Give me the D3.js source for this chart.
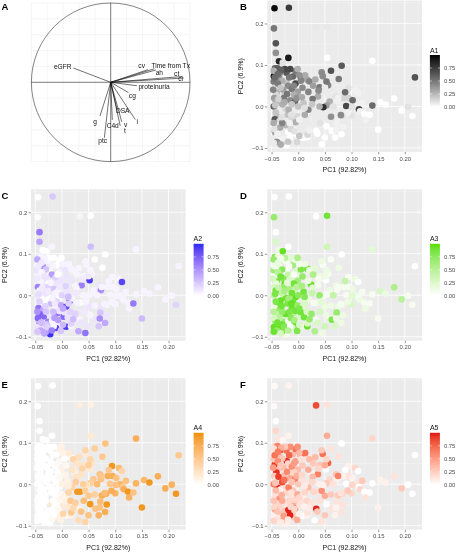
<!DOCTYPE html>
<html><head><meta charset="utf-8">
<script src="https://cdn.jsdelivr.net/npm/d3@7"></script>
<style>
body{margin:0;background:#fff}
svg{display:block;font-family:"Liberation Sans",Arial,Helvetica,sans-serif;will-change:transform}
</style>
</head><body>
<svg id="c" width="458" height="552"></svg>
<script>
// ---------- Panel A: variable loadings ----------
const varNames = ["eGFR","cv","Time from Tx","ah","ct","ci","proteinuria","cg","DSA","i","v","t","C4d","g","ptc"];
const varPC1 = [-0.47, 0.47, 0.55, 0.57, 0.90, 0.92, 0.33, 0.225, 0.08, 0.31, 0.14, 0.12, 0.02, -0.135, -0.08];
const varPC2 = [0.18, 0.16, 0.17, 0.155, 0.073, 0.054, -0.043, -0.13, -0.35, -0.47, -0.50, -0.55, -0.475, -0.425, -0.70];
// label nudges in pixels (style, not data)
const labelNudgeX = [-10.7, -6.3, 16.4, 3.4, -5.4, -3, 17.1, 3.8, 5.7, 2, 3.9, 4.8, 0.4, -5, -1.7];
const labelNudgeY = [-2, -4.6, -3.8, 2.3, -3.2, 0.3, 1, 3.1, 0.2, 1.7, 2.3, 4.8, 5.3, 5, 2.9];

// ---------- Scatter data (individuals) ----------
const pc1 = [
-0.0445,-0.0175,-0.0455,-0.042,0.0335,0.054,-0.036,-0.0185,-0.029,0.054,
0.139,0.219,0.0815,0.0615,0.076,0.046,-0.042,-0.0456,-0.0437,-0.039,
-0.034,-0.036,-0.022,-0.0217,-0.044,-0.019,-0.01,-0.005,-0.03,-0.046,
-0.028,-0.005,-0.012,-0.04,-0.001,0.005,-0.015,-0.046,-0.025,-0.001,
-0.041,-0.045,-0.042,-0.0387,-0.034,-0.033,-0.0235,-0.0047,-0.039,-0.044,
-0.046,-0.03,-0.015,-0.02,-0.01,-0.006,-0.027,-0.012,-0.035,-0.0015,
-0.041,-0.034,-0.042,-0.026,-0.0456,-0.036,-0.0235,-0.017,-0.008,-0.022,
-0.011,-0.009,-0.0185,-0.0059,-0.0153,-0.044,-0.03,-0.04,-0.03,-0.002,
0.008,0.0144,0.008,0.052,0.003,0.017,0.011,0.005,0.024,0.017,
0.005,0.013,0.056,0.037,0.0338,0.044,0.031,0.034,0.029,0.019,
0.0125,0.016,0.0175,0.002,0.036,0.05,0.053,0.05,0.044,0.019,
0.027,0.021,0.04,0.05,0.038,0.053,0.044,0.059,0.053,0.047,
0.071,0.073,0.086,0.0747,0.094,0.088,0.107,0.1125,0.095,0.102,
0.09,0.109,0.101,0.114,0.116,0.124,0.126,0.134,0.139,0.154,
0.164,0.18,0.194,0.206,0.214,0.15,0.1,0.093,0.084,0.083,
0.075,0.081,0.069,0.072,0.063,0.0615,0.08,0.071,0.066,0.12,
-0.038,-0.025,-0.008,-0.042,-0.018,-0.03,-0.005,-0.046,-0.014,0.0,
0.01,0.008,0.025,0.028,0.04,-0.033,-0.047,-0.043,-0.037,-0.031,
-0.026,-0.021,-0.016,-0.012,-0.007,-0.003,-0.045,-0.039,-0.033,-0.027,
-0.019,-0.013,-0.044,-0.032,-0.017,-0.008,0.002,0.007,0.012,0.002,
0.021,0.026,0.032,0.041,-0.046,-0.038];
const pc2 = [
0.2365,0.238,0.188,0.152,0.19,0.1915,0.109,0.117,0.106,0.117,
0.11,0.07,0.098,0.086,0.066,0.073,0.129,0.073,0.092,0.092,
0.081,0.07,0.081,0.056,0.048,0.05,0.072,0.085,0.062,0.06,
0.04,0.055,0.042,0.033,0.09,0.069,0.09,0.086,0.028,0.035,
0.028,0.02,0.011,-0.008,-0.0185,-0.013,-0.006,-0.005,-0.025,-0.031,
0.0,0.005,0.015,-0.02,-0.015,0.012,0.02,-0.03,-0.035,-0.024,
-0.046,-0.051,-0.07,-0.064,-0.077,-0.081,-0.045,-0.065,-0.073,-0.094,
-0.079,-0.044,-0.062,-0.059,-0.075,-0.06,-0.088,-0.085,-0.04,-0.086,
-0.076,-0.014,-0.028,0.036,-0.052,-0.075,-0.053,-0.041,0.026,0.064,
0.062,0.075,0.051,0.024,-0.059,-0.091,-0.087,-0.018,-0.018,-0.008,
-0.02,-0.04,-0.068,-0.071,-0.066,-0.075,-0.048,-0.028,-0.016,0.035,
0.018,0.06,0.046,0.046,0.038,0.06,0.082,0.012,0.002,-0.002,
0.024,0.012,0.02,0.02,0.044,0.034,0.039,0.032,0.02,0.015,
0.001,0.0,-0.002,-0.007,-0.012,-0.018,-0.032,-0.02,0.002,0.01,
0.004,0.019,-0.01,-0.001,-0.023,-0.056,-0.022,-0.016,-0.049,-0.023,
-0.027,-0.067,-0.075,-0.042,-0.059,-0.025,-0.021,-0.056,0.0,0.008,
0.055,0.09,0.028,-0.015,-0.008,-0.07,-0.038,-0.088,-0.055,0.0,
0.008,0.045,-0.045,0.05,0.0,0.045,0.04,0.003,0.018,-0.026,
0.01,0.03,-0.04,0.005,-0.06,0.02,-0.055,-0.066,-0.092,-0.077,
-0.085,-0.02,0.07,0.088,0.07,0.05,0.075,0.022,-0.004,-0.032,
-0.058,0.005,0.065,-0.04,-0.04,0.078];
const a1 = [
0.97,0.75,0.5,0.65,0.08,0.08,0.85,0.92,0.1,0.0,
0.0,0.65,0.62,0.65,0.5,0.42,0.4,0.95,0.55,0.6,
0.42,0.42,0.63,0.21,0.14,0.42,0.56,0.49,0.28,0.49,
0.35,0.7,0.49,0.28,0.28,0.49,0.7,0.28,0.21,0.35,
0.14,0.35,0.28,0.07,0.07,0.07,0.14,0.07,0.28,0.63,
0.56,0.28,0.42,0.21,0.07,0.56,0.49,0.14,0.14,0.14,
0.07,0.3,0.35,0.07,0.07,0.0,0.25,0.07,0.0,0.0,
0.07,0.07,0.0,0.0,0.0,0.35,0.14,0.4,0.45,0.14,
0.0,0.0,0.07,0.07,0.07,0.0,0.07,0.07,0.07,0.35,
0.45,0.3,0.45,0.3,0.0,0.0,0.07,0.07,0.07,0.45,
0.3,0.07,0.14,0.21,0.0,0.0,0.0,0.07,0.07,0.45,
0.5,0.45,0.5,0.07,0.42,0.5,0.42,0.28,0.35,0.8,
0.1,0.05,0.15,0.05,0.1,0.55,0.05,0.05,0.15,0.55,
0.7,0.05,0.1,0.72,0.05,0.0,0.05,0.0,0.55,0.0,
0.0,0.0,0.0,0.1,0.0,0.0,0.1,0.05,0.05,0.1,
0.05,0.0,0.0,0.05,0.0,0.4,0.42,0.05,0.1,0.05,
0.49,0.7,0.28,0.21,0.28,0.07,0.28,0.07,0.14,0.21,
0.21,0.42,0.07,0.35,0.28,0.21,0.45,0.2,0.15,0.1,
0.3,0.5,0.05,0.2,0.1,0.4,0.1,0.05,0.3,0.05,
0.2,0.1,0.55,0.6,0.5,0.45,0.4,0.3,0.1,0.05,
0.05,0.2,0.3,0.1,0.3,0.55];
const a2 = [
0.0,0.25,0.02,0.62,0.05,0.0,0.0,0.05,0.0,0.3,
0.05,0.05,0.0,0.0,0.0,0.05,0.42,0.0,0.12,0.05,
0.05,0.52,0.05,0.0,0.05,0.45,0.0,0.0,0.26,0.12,
0.12,0.05,0.2,0.05,0.0,0.0,0.0,0.4,0.0,0.12,
0.05,0.58,0.05,0.0,0.05,0.0,0.0,0.0,0.05,0.65,
0.12,0.12,0.26,0.32,0.2,0.05,0.2,0.05,0.4,0.4,
0.75,0.7,0.65,0.58,0.12,0.12,0.12,0.05,0.05,0.97,
0.88,0.65,0.05,0.05,0.05,0.32,0.45,0.4,0.26,0.26,
0.92,0.88,0.85,0.92,0.7,0.05,0.12,0.12,0.05,0.05,
0.12,0.05,0.05,0.58,0.05,0.65,0.4,0.0,0.05,0.05,
0.2,0.2,0.2,0.32,0.12,0.12,0.05,0.12,0.05,0.12,
0.05,0.05,0.05,0.1,0.1,0.05,0.05,0.05,0.05,0.05,
0.12,0.52,0.05,0.05,0.05,0.05,0.05,0.88,0.05,0.05,
0.05,0.05,0.05,0.05,0.05,0.05,0.05,0.62,0.05,0.05,
0.05,0.05,0.05,0.05,0.2,0.32,0.05,0.05,0.12,0.05,
0.12,0.4,0.26,0.26,0.12,0.05,0.05,0.52,0.05,0.05,
0.05,0.0,0.12,0.2,0.05,0.26,0.12,0.26,0.45,0.2,
0.12,0.12,0.2,0.05,0.05,0.12,0.1,0.15,0.1,0.2,
0.1,0.05,0.3,0.05,0.45,0.1,0.7,0.3,0.4,0.2,
0.6,0.1,0.1,0.05,0.05,0.0,0.05,0.2,0.3,0.4,
0.3,0.1,0.05,0.1,0.5,0.1];
const a3 = [
0.0,0.0,0.7,0.0,0.0,0.9,0.14,0.0,0.95,0.35,
0.21,0.0,0.0,0.05,0.14,0.05,0.28,0.05,0.84,0.14,
0.28,0.14,0.05,0.0,0.0,0.42,0.63,0.14,0.77,0.63,
0.77,0.28,0.28,0.91,0.56,0.14,0.21,0.7,0.97,0.63,
0.14,0.28,0.9,0.07,0.14,0.95,0.92,0.97,0.9,0.14,
0.42,0.42,0.56,0.85,0.9,0.35,0.7,0.92,0.7,0.7,
0.42,0.49,0.56,0.63,0.95,0.97,0.95,0.92,0.92,0.07,
0.28,0.49,0.07,0.07,0.0,0.63,0.77,0.7,0.7,0.84,
0.14,0.07,0.21,0.0,0.28,0.95,0.9,0.9,0.95,0.9,
0.84,0.14,0.07,0.07,0.07,0.14,0.56,0.14,0.07,0.14,
0.28,0.28,0.28,0.28,0.28,0.35,0.14,0.14,0.21,0.14,
0.21,0.14,0.14,0.14,0.07,0.14,0.14,0.14,0.07,0.07,
0.14,0.07,0.07,0.07,0.07,0.42,0.14,0.0,0.07,0.14,
0.07,0.14,0.21,0.07,0.14,0.07,0.14,0.07,0.07,0.28,
0.14,0.56,0.49,0.07,0.07,0.07,0.28,0.14,0.14,0.14,
0.14,0.14,0.28,0.7,0.84,0.14,0.07,0.14,0.42,0.07,
0.49,0.49,0.9,0.84,0.63,0.9,0.88,0.92,0.77,0.77,
0.9,0.7,0.7,0.56,0.7,0.9,0.3,0.85,0.4,0.9,
0.6,0.2,0.85,0.9,0.6,0.5,0.3,0.9,0.3,0.8,
0.5,0.95,0.1,0.1,0.05,0.05,0.1,0.6,0.8,0.85,
0.7,0.4,0.2,0.3,0.5,0.15];
const a4 = [
0,0,0,0,0.15,0.12,0,0,0,0.19,
0.75,0.5,0.56,0.44,0.5,0.19,0,0,0,0,
0,0,0,0,0,0,0,0.12,0,0,
0,0.06,0,0,0.12,0.12,0,0,0,0.12,
0,0,0,0,0,0,0,0,0,0,
0,0,0,0,0,0.05,0,0,0,0.05,
0,0,0,0,0,0,0.19,0,0.06,0,
0.12,0,0,0.06,0,0,0,0,0,0.12,
0.06,0.12,0.12,0.19,0.19,0.12,0.19,0.12,0.12,0.06,
0,0.19,0.25,0.25,0.12,0.38,0.31,0.95,0.95,0.38,
0.38,0.5,0.5,0.38,0.56,0.56,0.95,0.5,0.44,0.25,
0.25,0.38,0.25,0.44,0.38,0.38,0.38,0.5,0.44,0.25,
0.56,0.56,0.75,0.5,0.95,0.5,0.62,0.38,0.75,0.56,
0.5,0.69,0.56,0.5,0.75,0.95,0.7,0.56,0.69,0.65,
0.95,0.75,0.75,0.7,0.95,0.95,0.69,0.75,0.95,0.75,
0.75,0.75,0.69,0.62,0.56,0.44,0.62,0.56,0.62,0.56,
0,0,0,0,0,0,0.06,0,0,0.12,
0.12,0.06,0.44,0.25,0.44,0,0,0,0,0,
0,0,0,0,0.05,0.05,0,0,0,0,
0.05,0,0,0,0,0.05,0.1,0.1,0.15,0.1,
0.35,0.45,0.3,0.6,0,0];
const a5 = [
0.03,0.06,0.03,0.0,0.85,0.15,0.14,0.07,0.05,0.42,
0.21,0.0,0.0,0.14,0.14,0.7,0.21,0.14,0.21,0.63,
0.84,0.35,0.7,0.95,0.95,0.21,0.35,0.7,0.28,0.28,
0.35,0.49,0.56,0.35,0.56,0.84,0.56,0.14,0.14,0.35,
0.95,0.28,0.14,0.97,0.95,0.07,0.14,0.07,0.14,0.14,
0.63,0.84,0.42,0.21,0.28,0.63,0.35,0.14,0.56,0.42,
0.21,0.21,0.21,0.28,0.07,0.07,0.14,0.14,0.21,0.07,
0.28,0.42,0.97,0.95,0.98,0.49,0.28,0.14,0.42,0.42,
0,0.07,0.07,0,0.14,0.07,0.07,0.14,0.07,0.14,
0.14,0.7,0.77,0.63,0.97,0.14,0,0.14,0.21,0.35,
0.21,0.21,0.14,0.07,0.28,0.28,0,0.42,0.56,0.42,
0.35,0.35,0.28,0.42,0.21,0.21,0.28,0.21,0.28,0.07,
0.28,0.07,0.07,0.63,0.07,0,0.21,0,0.14,0.07,
0,0.14,0.21,0,0.21,0,0.14,0,0,0.07,
0.07,0.14,0.28,0,0,0.07,0.21,0.28,0.14,0.21,
0.28,0.14,0.07,0.14,0.14,0.28,0.14,0.07,0.14,0.28,
0.56,0.28,0.21,0.35,0.63,0.28,0.21,0.21,0.21,0.28,
0.14,0.28,0.14,0.28,0.07,0.28,0.5,0.3,0.9,0.4,
0.7,0.6,0.2,0.3,0.2,0.4,0.2,0.3,0.1,0.5,
0.1,0.15,0.7,0.4,0.75,0.5,0.35,0.2,0.1,0.2,
0.1,0.2,0.35,0.15,0.3,0.65];

const archetypeNames = ["A1","A2","A3","A4","A5"];
const archetypeValues = [a1, a2, a3, a4, a5];
const panelLetters = ["B","C","D","E","F"];
const highColors = ["#000000","#2b2bf2","#58e000","#ee9306","#e21414"];
const xTicks = [-0.05, 0, 0.05, 0.10, 0.15, 0.20];
const xMinor = [-0.025, 0.025, 0.075, 0.125, 0.175, 0.225];
const yTicks = [-0.1, 0, 0.1, 0.2];
const yMinor = [-0.05, 0.05, 0.15, 0.25];
const legendTicks = [0, 0.25, 0.5, 0.75];
const xTitle = "PC1 (92.82%)";
const yTitle = "PC2 (6.9%)";

// ---------- drawing ----------
const svg = d3.select("#c");

// Panel A
(function(){
  const cx = 110.7, cy = 82.3, r = 79.3;
  const sx = d3.scaleLinear().domain([-1,1]).range([cx-r, cx+r]);
  const sy = d3.scaleLinear().domain([-1,1]).range([cy+r, cy-r]);
  const g = svg.append("g");
  const gv = d3.range(-5,6).map(i=>i/5).filter(v=>v!==0);
  g.selectAll("line.gx").data(gv).join("line")
    .attr("x1",d=>sx(d)).attr("x2",d=>sx(d)).attr("y1",sy(1)).attr("y2",sy(-1))
    .attr("stroke","#ebebeb").attr("stroke-width",0.5);
  g.selectAll("line.gy").data(gv).join("line")
    .attr("y1",d=>sy(d)).attr("y2",d=>sy(d)).attr("x1",sx(-1)).attr("x2",sx(1))
    .attr("stroke","#ebebeb").attr("stroke-width",0.5);
  g.append("circle").attr("cx",sx(0)).attr("cy",sy(0)).attr("r",sx(1)-sx(0))
    .attr("fill","none").attr("stroke","#333").attr("stroke-width",0.6);
  g.append("line").attr("x1",sx(-1)).attr("x2",sx(1)).attr("y1",sy(0)).attr("y2",sy(0))
    .attr("stroke","#222").attr("stroke-width",0.6);
  g.append("line").attr("x1",sx(0)).attr("x2",sx(0)).attr("y1",sy(1)).attr("y2",sy(-1))
    .attr("stroke","#222").attr("stroke-width",0.6);
  const idx = d3.range(varNames.length);
  g.selectAll("line.ar").data(idx).join("line")
    .attr("x1",sx(0)).attr("y1",sy(0))
    .attr("x2",i=>sx(varPC1[i])).attr("y2",i=>sy(varPC2[i]))
    .attr("stroke","#111").attr("stroke-width",0.6);
  g.selectAll("text.lb").data(idx).join("text")
    .attr("x",i=>sx(varPC1[i])+labelNudgeX[i])
    .attr("y",i=>sy(varPC2[i])+labelNudgeY[i])
    .attr("text-anchor","middle").attr("dominant-baseline","central")
    .attr("font-size",6.6).attr("fill","#111").text(i=>varNames[i]);
  svg.append("text").attr("x",1.5).attr("y",9.5).attr("font-size",9.5)
    .attr("font-weight","bold").text("A");
})();

// Scatter panels
const PW = 154.6, PH = 151.4;
const panelLeft = [267.3, 31, 267.3, 31, 267.3];
const panelTop = [0.5, 189.3, 189.3, 378.3, 378.3];

archetypeValues.forEach((vals, k) => {
  const left = panelLeft[k], top = panelTop[k];
  const x = d3.scaleLinear().domain([-0.058, 0.232]).range([left, left+PW]);
  const y = d3.scaleLinear().domain([-0.1096, 0.2553]).range([top+PH, top]);
  const col = d3.scaleLinear().domain([0,1]).range(["#ffffff", highColors[k]])
    .interpolate(d3.interpolateLab).clamp(true);
  const g = svg.append("g");
  g.append("rect").attr("x",left).attr("y",top).attr("width",PW).attr("height",PH).attr("fill","#ebebeb");
  g.selectAll("line.mx").data(xMinor).join("line")
    .attr("x1",d=>x(d)).attr("x2",d=>x(d)).attr("y1",top).attr("y2",top+PH)
    .attr("stroke","#f7f7f7").attr("stroke-width",0.4);
  g.selectAll("line.my").data(yMinor).join("line")
    .attr("y1",d=>y(d)).attr("y2",d=>y(d)).attr("x1",left).attr("x2",left+PW)
    .attr("stroke","#f7f7f7").attr("stroke-width",0.4);
  g.selectAll("line.Mx").data(xTicks).join("line")
    .attr("x1",d=>x(d)).attr("x2",d=>x(d)).attr("y1",top).attr("y2",top+PH)
    .attr("stroke","#ffffff").attr("stroke-width",0.8);
  g.selectAll("line.My").data(yTicks).join("line")
    .attr("y1",d=>y(d)).attr("y2",d=>y(d)).attr("x1",left).attr("x2",left+PW)
    .attr("stroke","#ffffff").attr("stroke-width",0.8);
  const idx = d3.range(pc1.length);
  g.selectAll("circle").data(idx).join("circle")
    .attr("cx",i=>x(pc1[i])).attr("cy",i=>y(pc2[i])).attr("r",3.3)
    .attr("fill",i=>col(vals[i]));
  // axes
  const xa = g.append("g").attr("transform",`translate(0,${top+PH})`)
    .call(d3.axisBottom(x).tickValues(xTicks).tickFormat(d3.format(".2f")).tickSize(2.5).tickPadding(2));
  const ya = g.append("g").attr("transform",`translate(${left},0)`)
    .call(d3.axisLeft(y).tickValues(yTicks).tickFormat(d3.format(".1f")).tickSize(2.5).tickPadding(1.2));
  [xa, ya].forEach(a => {
    a.select(".domain").remove();
    a.selectAll(".tick line").attr("stroke","#333").attr("stroke-width",0.5);
    a.selectAll(".tick text").attr("fill","#4d4d4d").attr("font-size",5.9)
      .attr("font-family","'Liberation Sans',Arial,sans-serif");
  });
  g.append("text").attr("x",left+PW/2).attr("y",top+PH+20.5).attr("text-anchor","middle")
    .attr("font-size",7).attr("fill","#111").text(xTitle);
  g.append("text").attr("transform",`translate(${left-24.5},${top+PH/2}) rotate(-90)`)
    .attr("text-anchor","middle").attr("font-size",7).attr("fill","#111").text(yTitle);
  // legend
  const bx = left+PW+8, bw = 10;
  const ly = d3.scaleLinear().domain([0,1]).range([top+106.5, top+54.5]);
  const gid = "grad"+k;
  const grad = svg.append("defs").append("linearGradient").attr("id",gid)
    .attr("x1",0).attr("y1",1).attr("x2",0).attr("y2",0);
  d3.range(0,1.0001,0.1).forEach(t => grad.append("stop").attr("offset",t).attr("stop-color",col(t)));
  g.append("rect").attr("x",bx).attr("y",ly(1)).attr("width",bw).attr("height",ly(0)-ly(1))
    .attr("fill",`url(#${gid})`);
  legendTicks.forEach(t => {
    g.append("line").attr("x1",bx).attr("x2",bx+2).attr("y1",ly(t)).attr("y2",ly(t)).attr("stroke","#fff").attr("stroke-width",0.5);
    g.append("line").attr("x1",bx+bw-2).attr("x2",bx+bw).attr("y1",ly(t)).attr("y2",ly(t)).attr("stroke","#fff").attr("stroke-width",0.5);
  });
  g.selectAll("text.lt").data(legendTicks).join("text")
    .attr("x",bx+bw+4).attr("y",d=>ly(d)).attr("dominant-baseline","central")
    .attr("font-size",5.9).attr("fill","#4d4d4d").text(d=>d3.format(".2f")(d));
  g.append("text").attr("x",bx).attr("y",top+52).attr("font-size",7).attr("fill","#111").text(archetypeNames[k]);
  // letter
  svg.append("text").attr("x",left===31?1.5:240).attr("y",top+9.5).attr("font-size",9.5)
    .attr("font-weight","bold").text(panelLetters[k]);
});
</script>
</body></html>
